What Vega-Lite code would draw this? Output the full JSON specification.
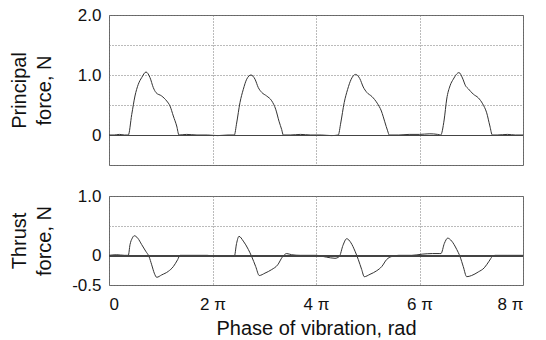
{
  "$schema": "https://vega.github.io/schema/vega-lite/v6.json",
  "background": "white",
  "padding": {"left": 8, "top": 5, "right": 5, "bottom": 2},
  "config": {
    "font": "Liberation Sans",
    "view": {"stroke": "#666", "strokeWidth": 1},
    "concat": {"spacing": 12},
    "axis": {
      "domain": false,
      "ticks": false,
      "grid": true,
      "gridColor": "#777",
      "gridDash": [1, 2],
      "gridWidth": 1,
      "labelOverlap": false,
      "labelFontSize": 17,
      "labelColor": "#111",
      "labelPadding": 8,
      "titleFontSize": 20,
      "titleFontWeight": "normal",
      "titleColor": "#111"
    }
  },
  "datasets": {
    "principal": [
      {"phase": 0, "force": 0}, {"phase": 0.1, "force": 0}, {"phase": 0.2, "force": 0.01}, {"phase": 0.3, "force": 0},
      {"phase": 0.373, "force": 0}, {"phase": 0.439, "force": 0.34}, {"phase": 0.502, "force": 0.65}, {"phase": 0.566, "force": 0.845},
      {"phase": 0.632, "force": 0.957}, {"phase": 0.715, "force": 1.05}, {"phase": 0.792, "force": 0.957}, {"phase": 0.856, "force": 0.79},
      {"phase": 0.908, "force": 0.707}, {"phase": 1.018, "force": 0.65}, {"phase": 1.115, "force": 0.567}, {"phase": 1.179, "force": 0.483},
      {"phase": 1.243, "force": 0.317}, {"phase": 1.308, "force": 0.15}, {"phase": 1.353, "force": 0},
      {"phase": 1.5, "force": 0.01}, {"phase": 1.7, "force": 0}, {"phase": 1.9, "force": 0}, {"phase": 2.1, "force": -0.01}, {"phase": 2.3, "force": 0},
      {"phase": 2.421, "force": 0}, {"phase": 2.467, "force": 0.2}, {"phase": 2.531, "force": 0.54}, {"phase": 2.595, "force": 0.76},
      {"phase": 2.661, "force": 0.93}, {"phase": 2.744, "force": 1.0}, {"phase": 2.821, "force": 0.93}, {"phase": 2.885, "force": 0.79},
      {"phase": 2.951, "force": 0.71}, {"phase": 3.047, "force": 0.65}, {"phase": 3.144, "force": 0.57}, {"phase": 3.221, "force": 0.43},
      {"phase": 3.285, "force": 0.23}, {"phase": 3.337, "force": 0.09}, {"phase": 3.368, "force": 0},
      {"phase": 3.5, "force": 0}, {"phase": 3.7, "force": 0.01}, {"phase": 3.9, "force": 0}, {"phase": 4.1, "force": 0}, {"phase": 4.3, "force": -0.01},
      {"phase": 4.43, "force": 0}, {"phase": 4.478, "force": 0.2}, {"phase": 4.545, "force": 0.54}, {"phase": 4.611, "force": 0.76},
      {"phase": 4.68, "force": 0.93}, {"phase": 4.766, "force": 1.01}, {"phase": 4.846, "force": 0.94}, {"phase": 4.913, "force": 0.8},
      {"phase": 4.982, "force": 0.71}, {"phase": 5.082, "force": 0.64}, {"phase": 5.183, "force": 0.53}, {"phase": 5.263, "force": 0.4},
      {"phase": 5.329, "force": 0.22}, {"phase": 5.384, "force": 0.07}, {"phase": 5.416, "force": 0},
      {"phase": 5.6, "force": 0}, {"phase": 5.8, "force": 0.01}, {"phase": 6.0, "force": 0.01}, {"phase": 6.2, "force": 0.02}, {"phase": 6.35, "force": 0.01},
      {"phase": 6.41, "force": 0}, {"phase": 6.476, "force": 0.25}, {"phase": 6.526, "force": 0.6}, {"phase": 6.59, "force": 0.82},
      {"phase": 6.653, "force": 0.93}, {"phase": 6.763, "force": 1.04}, {"phase": 6.83, "force": 0.95}, {"phase": 6.89, "force": 0.82},
      {"phase": 6.943, "force": 0.77}, {"phase": 7.04, "force": 0.68}, {"phase": 7.136, "force": 0.62}, {"phase": 7.22, "force": 0.52},
      {"phase": 7.298, "force": 0.37}, {"phase": 7.36, "force": 0.15}, {"phase": 7.407, "force": 0},
      {"phase": 7.5, "force": 0}, {"phase": 7.7, "force": 0.01}, {"phase": 7.85, "force": 0}, {"phase": 8.0, "force": 0}
    ],
    "thrust": [
      {"phase": 0, "force": 0}, {"phase": 0.15, "force": 0.01}, {"phase": 0.3, "force": 0},
      {"phase": 0.373, "force": 0}, {"phase": 0.406, "force": 0.18}, {"phase": 0.45, "force": 0.29}, {"phase": 0.489, "force": 0.33},
      {"phase": 0.555, "force": 0.29}, {"phase": 0.632, "force": 0.18}, {"phase": 0.709, "force": 0.07}, {"phase": 0.773, "force": -0.02},
      {"phase": 0.825, "force": -0.16}, {"phase": 0.875, "force": -0.3}, {"phase": 0.922, "force": -0.37}, {"phase": 1.018, "force": -0.33},
      {"phase": 1.146, "force": -0.27}, {"phase": 1.243, "force": -0.19}, {"phase": 1.328, "force": -0.07}, {"phase": 1.372, "force": 0},
      {"phase": 1.6, "force": 0}, {"phase": 1.9, "force": 0}, {"phase": 2.1, "force": -0.02}, {"phase": 2.35, "force": -0.02},
      {"phase": 2.421, "force": -0.02}, {"phase": 2.465, "force": 0.2}, {"phase": 2.512, "force": 0.32}, {"phase": 2.595, "force": 0.24},
      {"phase": 2.692, "force": 0.1}, {"phase": 2.757, "force": -0.02}, {"phase": 2.835, "force": -0.19}, {"phase": 2.904, "force": -0.34},
      {"phase": 3.014, "force": -0.3}, {"phase": 3.144, "force": -0.24}, {"phase": 3.26, "force": -0.16}, {"phase": 3.349, "force": -0.03},
      {"phase": 3.434, "force": 0.03}, {"phase": 3.53, "force": 0.01},
      {"phase": 3.7, "force": 0}, {"phase": 4.0, "force": 0}, {"phase": 4.2, "force": -0.03},
      {"phase": 4.367, "force": -0.05}, {"phase": 4.45, "force": -0.02}, {"phase": 4.522, "force": 0.17}, {"phase": 4.593, "force": 0.28},
      {"phase": 4.676, "force": 0.21}, {"phase": 4.754, "force": 0.07}, {"phase": 4.817, "force": -0.07}, {"phase": 4.883, "force": -0.24},
      {"phase": 4.933, "force": -0.36}, {"phase": 5.043, "force": -0.32}, {"phase": 5.173, "force": -0.26}, {"phase": 5.27, "force": -0.19},
      {"phase": 5.366, "force": -0.07}, {"phase": 5.463, "force": -0.02},
      {"phase": 5.6, "force": 0}, {"phase": 5.85, "force": 0}, {"phase": 6.05, "force": 0.02}, {"phase": 6.25, "force": 0.03}, {"phase": 6.38, "force": 0.03},
      {"phase": 6.415, "force": 0.03}, {"phase": 6.48, "force": 0.2}, {"phase": 6.545, "force": 0.29}, {"phase": 6.622, "force": 0.24},
      {"phase": 6.719, "force": 0.1}, {"phase": 6.783, "force": -0.02}, {"phase": 6.846, "force": -0.19}, {"phase": 6.912, "force": -0.36},
      {"phase": 7.008, "force": -0.34}, {"phase": 7.136, "force": -0.28}, {"phase": 7.252, "force": -0.21}, {"phase": 7.343, "force": -0.1},
      {"phase": 7.407, "force": -0.02}, {"phase": 7.459, "force": 0},
      {"phase": 7.7, "force": 0}, {"phase": 8.0, "force": 0}
    ]
  },
  "vconcat": [
    {
      "width": 414,
      "height": 150,
      "data": {"name": "principal"},
      "resolve": {"axis": {"y": "independent"}},
      "layer": [
        {
          "mark": {"type": "line", "color": "#333", "strokeWidth": 1, "interpolate": "monotone"},
          "encoding": {
            "x": {"field": "phase", "type": "quantitative", "scale": {"domain": [0, 8], "nice": false},
                  "axis": {"values": [0, 2, 4, 6, 8], "labels": false, "labelPadding": 0, "title": null}},
            "y": {"field": "force", "type": "quantitative", "scale": {"domain": [-0.5, 2], "nice": false, "zero": false},
                  "axis": {"values": [-0.5, 0, 0.5, 1, 1.5, 2],
                           "labelExpr": "datum.value == 0 ? '0' : (datum.value == 0.5 || datum.value == 1.5 || datum.value == -0.5 ? '' : datum.label)",
                           "format": ".1f",
                           "title": ["Principal", "force, N"], "titleLineHeight": 25, "titlePadding": 18,
                           "minExtent": 37, "maxExtent": 37}}
          }
        },
        {
          "mark": {"type": "rule", "color": "#444", "strokeWidth": 1, "yOffset": 0.5},
          "encoding": {"y": {"datum": 0, "type": "quantitative", "axis": null}}
        }
      ]
    },
    {
      "width": 414,
      "height": 89,
      "data": {"name": "thrust"},
      "resolve": {"axis": {"y": "independent"}},
      "layer": [
        {
          "mark": {"type": "line", "color": "#333", "strokeWidth": 1, "interpolate": "monotone"},
          "encoding": {
            "x": {"field": "phase", "type": "quantitative", "scale": {"domain": [0, 8], "nice": false},
                  "axis": {"values": [0, 2, 4, 6, 8], "labelExpr": "datum.value == 0 ? '0' : datum.value + ' π'",
                           "labelPadding": 11, "title": "Phase of vibration, rad", "titlePadding": 6}},
            "y": {"field": "force", "type": "quantitative", "scale": {"domain": [-0.5, 1], "nice": false, "zero": false},
                  "axis": {"values": [-0.5, 0, 0.5, 1],
                           "labelExpr": "datum.value == 0 ? '0' : (datum.value == -0.5 ? '-0.5' : (datum.value == 0.5 ? '' : datum.label))",
                           "format": ".1f",
                           "title": ["Thrust", "force, N"], "titleLineHeight": 25, "titlePadding": 18,
                           "minExtent": 37, "maxExtent": 37}}
          }
        },
        {
          "mark": {"type": "rule", "color": "#444", "strokeWidth": 1, "yOffset": 0.5},
          "encoding": {"y": {"datum": 0, "type": "quantitative", "axis": null}}
        }
      ]
    }
  ]
}
